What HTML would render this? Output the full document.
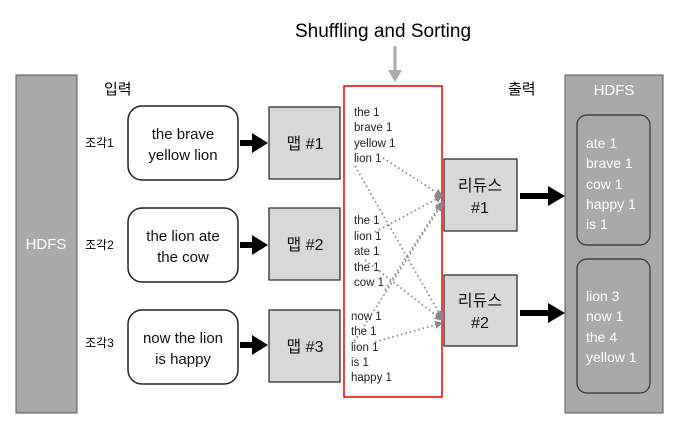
<!DOCTYPE html>
<html><head><meta charset="utf-8"><style>
body{margin:0;background:#fff;}
svg text{font-family:"Liberation Sans","Noto Sans CJK KR",sans-serif;}
</style></head><body>
<svg width="678" height="429" viewBox="0 0 678 429" xmlns="http://www.w3.org/2000/svg">
<defs>
<marker id="ga" markerWidth="8" markerHeight="8" refX="7" refY="4" orient="auto" markerUnits="userSpaceOnUse"><path d="M0,0 L8,4 L0,8 z" fill="#888"/></marker>
</defs>
<text x="383" y="37" font-size="19" text-anchor="middle" fill="#000">Shuffling and Sorting</text>
<line x1="395" y1="46" x2="395" y2="72" stroke="#aaa" stroke-width="3"/>
<path d="M388,70 L402,70 L395,82 z" fill="#aaa"/>
<rect x="16" y="75" width="61" height="338" fill="#a9a9a9" stroke="#555" stroke-width="1"/>
<text x="46" y="249" font-size="15" fill="#fff" text-anchor="middle">HDFS</text>
<rect x="565" y="75" width="98" height="338" fill="#a9a9a9" stroke="#555" stroke-width="1"/>
<text x="614" y="95" font-size="15" fill="#fff" text-anchor="middle">HDFS</text>
<text x="104" y="94" font-size="15">입력</text>
<text x="508" y="94" font-size="15">출력</text>
<g font-size="12"><text x="85" y="147">조각1</text><text x="85" y="249">조각2</text><text x="85" y="347">조각3</text></g>
<g fill="#fff" stroke="#222" stroke-width="1.5">
<rect x="128" y="106" width="110" height="74" rx="14"/>
<rect x="128" y="208" width="110" height="74" rx="14"/>
<rect x="128" y="310" width="110" height="74" rx="14"/>
</g>
<g font-size="15" text-anchor="middle" fill="#111">
<text x="183" y="139">the brave</text><text x="183" y="160">yellow lion</text>
<text x="183" y="241">the lion ate</text><text x="183" y="262">the cow</text>
<text x="183" y="343">now the lion</text><text x="183" y="364">is happy</text>
</g>
<g fill="#000">
<rect x="240" y="140" width="14" height="6"/><path d="M252,133 L268,143 L252,153 z"/>
<rect x="240" y="242" width="14" height="6"/><path d="M252,235 L268,245 L252,255 z"/>
<rect x="240" y="342" width="14" height="6"/><path d="M252,335 L268,345 L252,355 z"/>
<rect x="520" y="193" width="30" height="6"/><path d="M548,186 L565,196 L548,206 z"/>
<rect x="520" y="310" width="30" height="6"/><path d="M548,303 L565,313 L548,323 z"/>
</g>
<g fill="#d8d8d8" stroke="#222" stroke-width="1.2">
<rect x="269" y="107" width="71" height="72"/>
<rect x="269" y="208" width="71" height="72"/>
<rect x="269" y="310" width="71" height="72"/>
<rect x="444" y="159" width="73" height="72"/>
<rect x="444" y="275" width="73" height="71"/>
</g>
<g font-size="16" text-anchor="middle" fill="#111">
<text x="305" y="149">맵 #1</text><text x="305" y="250">맵 #2</text><text x="305" y="352">맵 #3</text>
<text x="480" y="191">리듀스</text><text x="480" y="213">#1</text>
<text x="480" y="306">리듀스</text><text x="480" y="328">#2</text>
</g>
<rect x="344" y="86" width="98" height="311" fill="none" stroke="#e00" stroke-width="1.5"/>
<g font-size="11.5" fill="#222">
<text x="354" y="116">the 1</text><text x="354" y="131">brave 1</text><text x="354" y="147">yellow 1</text><text x="354" y="162">lion 1</text>
<text x="354" y="224">the 1</text><text x="354" y="240">lion 1</text><text x="354" y="255">ate 1</text><text x="354" y="271">the 1</text><text x="354" y="286">cow 1</text>
<text x="351" y="320">now 1</text><text x="351" y="335">the 1</text><text x="351" y="351">lion 1</text><text x="351" y="366">is 1</text><text x="351" y="381">happy 1</text>
</g>
<g stroke="#888" stroke-width="1.8" stroke-dasharray="1.5,3" fill="none" marker-end="url(#ga)">
<line x1="383" y1="158" x2="442" y2="196"/>
<line x1="355" y1="166" x2="442" y2="318"/>
<line x1="375" y1="232" x2="442" y2="196"/>
<line x1="385" y1="290" x2="442" y2="202"/>
<line x1="365" y1="260" x2="442" y2="320"/>
<line x1="352" y1="345" x2="442" y2="204"/>
<line x1="375" y1="342" x2="442" y2="323"/>
</g>
<g fill="none" stroke="#333" stroke-width="1.2">
<rect x="577" y="115" width="73" height="130" rx="10"/>
<rect x="577" y="259" width="73" height="134" rx="10"/>
</g>
<g font-size="14" fill="#fff">
<text x="586" y="148">ate 1</text><text x="586" y="168">brave 1</text><text x="586" y="189">cow 1</text><text x="586" y="209">happy 1</text><text x="586" y="229">is 1</text>
<text x="586" y="301">lion 3</text><text x="586" y="321">now 1</text><text x="586" y="342">the 4</text><text x="586" y="362">yellow 1</text>
</g>
</svg>
</body></html>
